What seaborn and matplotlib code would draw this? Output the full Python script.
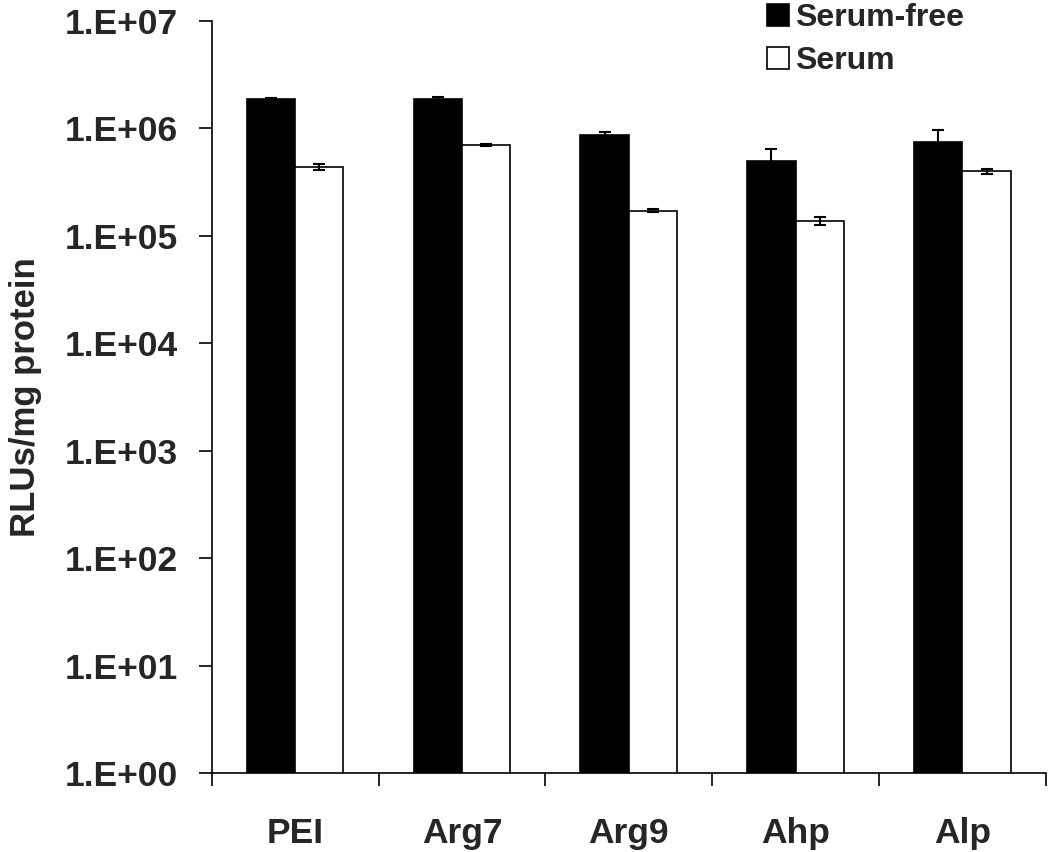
import numpy as np
import pandas as pd
import matplotlib
matplotlib.use('Agg')
import matplotlib.pyplot as plt
from matplotlib.ticker import FixedLocator, FixedFormatter, NullLocator
import seaborn as sns

# ---- data ----
carriers = ['PEI', 'Arg7', 'Arg9', 'Ahp', 'Alp']
conditions = ['Serum-free', 'Serum']
serum_free = [1.87e6, 1.87e6, 8.75e5, 5.0e5, 7.5e5]
serum_free_err = [4e4, 1.0e5, 5e4, 1.38e5, 2.15e5]
serum = [4.4e5, 7.0e5, 1.72e5, 1.38e5, 4.0e5]
serum_err = [2.5e4, 1.5e4, 5e3, 1.2e4, 2.0e4]
y_ticks = [1e0, 1e1, 1e2, 1e3, 1e4, 1e5, 1e6, 1e7]
y_tick_labels = ['1.E+00', '1.E+01', '1.E+02', '1.E+03',
                 '1.E+04', '1.E+05', '1.E+06', '1.E+07']

df = pd.DataFrame({
    'carrier': carriers * 2,
    'condition': [conditions[0]] * len(carriers) + [conditions[1]] * len(carriers),
    'rlu': serum_free + serum,
})

sns.set_style('white')
plt.rcParams['font.family'] = ['Liberation Sans', 'DejaVu Sans']
plt.rcParams['font.weight'] = 'bold'

fig = plt.figure(figsize=(10.5, 8.52), dpi=100)
ax = fig.add_axes([0.2016, 0.0927, 0.7944, 0.8826])

sns.barplot(data=df, x='carrier', y='rlu', hue='condition', order=carriers,
            hue_order=conditions, palette=['black', 'white'], edgecolor='black',
            linewidth=1.2, width=0.58, gap=0, errorbar=None, ax=ax)
ax.set_yscale('log')
ax.set_ylim(1, 1e7)
ax.set_xlim(-0.5, len(carriers) - 0.5)

# error bars on top of the seaborn bars
for cont, vals, errs in zip(ax.containers, [serum_free, serum], [serum_free_err, serum_err]):
    xs = [b.get_x() + b.get_width() / 2 for b in cont]
    ax.errorbar(xs, vals, yerr=errs, fmt='none', ecolor='black',
                elinewidth=1.5, capsize=4.5, capthick=1.5, zorder=5)

# axes styling (Excel look)
for s in ['top', 'right']:
    ax.spines[s].set_visible(False)
for s in ['left', 'bottom']:
    ax.spines[s].set_linewidth(1.2)
    ax.spines[s].set_color('black')

ax.yaxis.set_major_locator(FixedLocator(y_ticks))
ax.yaxis.set_major_formatter(FixedFormatter(y_tick_labels))
ax.yaxis.set_minor_locator(NullLocator())
ax.tick_params(axis='y', which='major', direction='out', length=9.5, width=1.2,
               pad=15, labelsize=25.5, left=True, color='black')

ax.xaxis.set_minor_locator(FixedLocator(np.arange(-0.5, len(carriers), 1.0)))
ax.tick_params(axis='x', which='minor', direction='out', length=9.5, width=1.2,
               bottom=True, color='black')
ax.tick_params(axis='x', which='major', length=0, pad=32, labelsize=25.5)

ax.set_xlabel('')
ax.set_ylabel('RLUs/mg protein', fontsize=25, fontweight='bold')
ax.yaxis.set_label_coords(-0.204, 0.5)

handles, labels = ax.get_legend_handles_labels()
ax.legend(handles, labels, loc='upper left', bbox_to_anchor=(0.7305, 0.9965),
          bbox_transform=fig.transFigure, frameon=False, fontsize=23,
          handlelength=0.68, handleheight=0.7, handletextpad=0.2,
          labelspacing=0.42, borderpad=0, borderaxespad=0)

fig.savefig('out.png', dpi=100)
